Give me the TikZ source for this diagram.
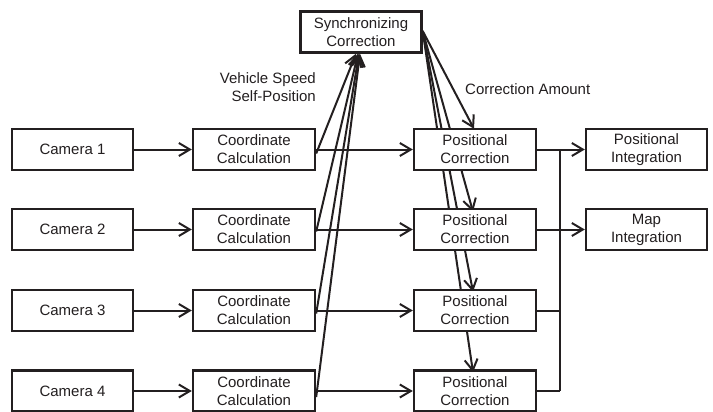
\documentclass[tikz,border=0pt]{standalone}
\usepackage{fontspec}
\setmainfont{Liberation Sans}
\usetikzlibrary{arrows.meta,backgrounds}
\definecolor{ink}{HTML}{231F20}
\begin{document}
\begin{tikzpicture}[x=1pt,y=-1pt,
  box/.style={draw=ink, fill=white, line width=2.4pt, rectangle, minimum width=121pt, minimum height=41pt,
    inner sep=0pt, align=center, text=ink, font=\fontsize{15}{18}\selectfont},
  conn/.style={draw=ink, line width=2pt, -{Straight Barb[length=11pt,width=13pt]}},
  wire/.style={draw=ink, line width=2pt},
  lbl/.style={text=ink, font=\fontsize{15}{18}\selectfont, inner sep=0pt}
]
\useasboundingbox (0,0) rectangle (713,412);
% boxes
\node[box] (sync) at (361,32) {Synchronizing\\Correction};
\foreach \i/\y in {1/149.5,2/229.5,3/310.5,4/391} {
  \node[box] (cam\i) at (72.5,\y) {Camera \i};
  \node[box, minimum width=122pt] (cc\i) at (254,\y) {Coordinate\\Calculation};
  \node[box, minimum width=122pt] (pc\i) at (475,\y) {Positional\\Correction};
}
\node[box] (pi) at (646.5,149.5) {Positional\\Integration};
\node[box] (mi) at (646.5,229.5) {Map\\Integration};
% labels
\node[lbl, align=right, anchor=east] (vs) at (316,87) {Vehicle Speed\\Self-Position};
\node[lbl, anchor=west] (ca) at (465,89) {Correction Amount};
\begin{pgfonlayer}{background}
% row connectors
\foreach \i in {1,2,3,4} {
  \draw[conn] (cam\i.east) -- (cc\i.west);
  \draw[conn] (cc\i.east) -- (pc\i.west);
}
% to synchronizing correction
\draw[conn] ([yshift=-4pt]cc1.east) -- ([xshift=-5pt]sync.south);
\draw[conn] ([yshift=-2pt]cc2.east) -- ([xshift=-3pt]sync.south);
\draw[conn] ([yshift=-3pt]cc3.east) -- ([xshift=-2pt]sync.south);
\draw[conn] ([yshift=-6pt]cc4.east) -- ([xshift=-1pt]sync.south);
% from synchronizing correction
\coordinate (so) at ([yshift=1pt]sync.east);
\draw[conn] (so) -- ([xshift=-1pt,yshift=-1pt]pc1.north);
\draw[conn] (so) -- ([xshift=-2pt,yshift=-4pt]pc2.north);
\draw[conn] (so) -- ([xshift=-2pt,yshift=-3pt]pc3.north);
\draw[conn] (so) -- ([xshift=-2pt,yshift=-3pt]pc4.north);
% integration bus
\coordinate (bt) at (560,149.5);
\coordinate (bb) at (560,391);
\draw[wire] (bt) -- (bb);
\draw[conn] (pc1.east) -- (pi.west);
\draw[conn] (pc2.east) -- (mi.west);
\draw[wire] (pc3.east) -- (pc3.east -| bt);
\draw[wire] (pc4.east) -- (pc4.east -| bt);
\end{pgfonlayer}
\end{tikzpicture}
\end{document}
